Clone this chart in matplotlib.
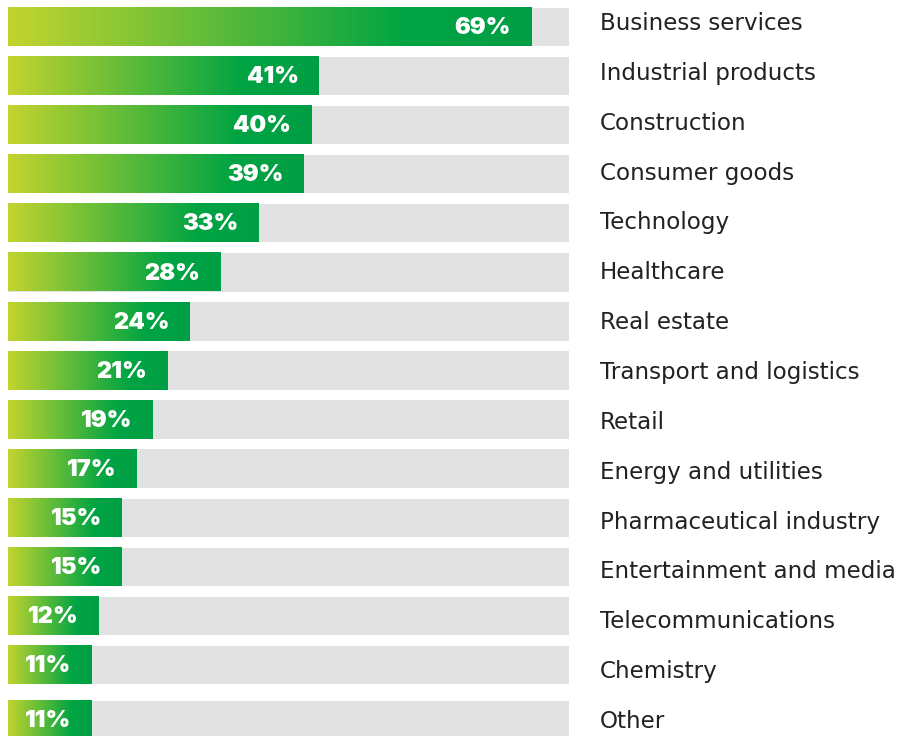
import numpy as np
import matplotlib
matplotlib.use('Agg')
import matplotlib.pyplot as plt
from matplotlib.colors import LinearSegmentedColormap

categories = ['Business services', 'Industrial products', 'Construction', 'Consumer goods',
              'Technology', 'Healthcare', 'Real estate', 'Transport and logistics', 'Retail',
              'Energy and utilities', 'Pharmaceutical industry', 'Entertainment and media',
              'Telecommunications', 'Chemistry', 'Other']
values = [69, 41, 40, 39, 33, 28, 24, 21, 19, 17, 15, 15, 12, 11, 11]
track_max = 74

W, H = 901, 736
PX = 7.58          # pixels per percent
X0 = 8             # left edge of bars in pixels

fig = plt.figure(figsize=(W / 100, H / 100), dpi=100)
ax = fig.add_axes([0, 0, 1, 1])
ax.set_xlim(-X0 / PX, (W - X0) / PX)
ax.set_ylim(H, 0)
ax.axis('off')

cmap = LinearSegmentedColormap.from_list('g', [(0, '#c3d42f'), (0.76, '#00a443'), (1, '#009e45')])
grad = np.linspace(0, 1, 256).reshape(1, -1)

bar_h = 39
for i, (cat, v) in enumerate(zip(categories, values)):
    top = 7 + 49.1 * i + (6 if i == len(values) - 1 else 0)
    ax.add_patch(plt.Rectangle((0, top + 0.5), track_max, bar_h - 0.5, color='#e2e2e2', lw=0))
    ax.imshow(grad, cmap=cmap, extent=[0, v, top + bar_h, top], aspect='auto',
              interpolation='bicubic', zorder=2)
    mid = top + bar_h / 2
    ax.text(v - 20 / PX, mid + 7.5, f'{v}%', ha='right', va='baseline', color='white',
            fontsize=17, fontweight='black', family='Inter', zorder=3)
    # category labels sit on their own, slightly wider spacing
    lab_y = 22 + 49.86 * i
    ax.text((600 - X0) / PX, lab_y + 8, cat, ha='left', va='baseline', color='#222222',
            fontsize=16.6, family='DejaVu Sans')

fig.savefig('out.png', dpi=100)
